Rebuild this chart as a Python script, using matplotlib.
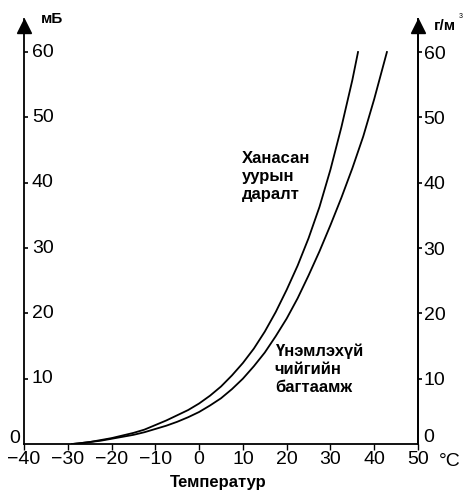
import numpy as np
import matplotlib
matplotlib.use("Agg")
import matplotlib.pyplot as plt

plt.rcParams['font.family'] = ['Liberation Sans', 'DejaVu Sans']

# saturation vapour pressure (mB) against temperature (C)
temp_p = [-29, -27.5, -25, -22.5, -20, -17.5, -15, -12.5, -10, -7.5, -5, -2.5, 0,
          2.5, 5, 7.5, 10, 12.5, 15, 17.5, 20, 22.5, 25, 27.5, 30, 32.5, 35, 36.3]
pres = [0.0, 0.1, 0.3, 0.6, 0.9, 1.3, 1.7, 2.2, 2.9, 3.6, 4.4, 5.2, 6.2,
        7.4, 8.8, 10.5, 12.4, 14.6, 17.2, 20.2, 23.6, 27.3, 31.5, 36.3, 42.0, 48.5, 55.7, 60.0]

# absolute humidity (g/m3) against temperature (C)
temp_h = [-29, -27.5, -25, -22.5, -20, -17.5, -15, -12.5, -10, -7.5, -5, -2.5, 0,
          2.5, 5, 7.5, 10, 12.5, 15, 17.5, 20, 22.5, 25, 27.5, 30, 32.5, 35, 37.5, 40, 42.9]
hum = [0.0, 0.1, 0.3, 0.5, 0.8, 1.1, 1.4, 1.8, 2.3, 2.8, 3.4, 4.1, 4.9,
       5.9, 7.0, 8.4, 10.0, 11.9, 14.0, 16.5, 19.2, 22.3, 25.8, 29.5, 33.5, 37.7, 42.2, 47.1, 52.8, 60.0]

xticks = [-40, -30, -20, -10, 0, 10, 20, 30, 40, 50]
yticks = [10, 20, 30, 40, 50, 60]
ytop = 65.0

fig = plt.figure(figsize=(4.68, 4.92), dpi=100)
ax = fig.add_axes([24/468, 48/492, 394/468, ytop*6.533/492])
ax.set_xlim(-40, 50)
ax.set_ylim(0, ytop)

ax.plot(temp_p, pres, color='black', lw=1.3)
ax.plot(temp_h, hum, color='black', lw=1.3)

ax.spines['top'].set_visible(False)
for s in ['left', 'right', 'bottom']:
    ax.spines[s].set_linewidth(1.3)

ax.set_xticks(xticks)
ax.set_xticklabels([str(t).replace('-', '\u2212') for t in xticks], fontsize=14)
ax.tick_params(axis='x', direction='out', length=4, width=1, pad=1)

ax.set_yticks(yticks)
ax.set_yticklabels([])
ax.tick_params(axis='y', direction='in', length=3, width=1.2)
for v in yticks:
    ax.text(-38.2, v, str(v), fontsize=14, ha='left', va='center')

ax2 = ax.twinx()
ax2.set_ylim(0, ytop)
for s in ['top', 'left', 'bottom']:
    ax2.spines[s].set_visible(False)
ax2.spines['right'].set_linewidth(1.3)
ax2.set_yticks(yticks)
ax2.set_yticklabels([str(v) for v in yticks], fontsize=14)
ax2.tick_params(axis='y', direction='out', length=3, width=1.2, pad=1)

# zero labels
ax.text(-42.1, 0.8, '0', fontsize=14, ha='center', va='center', clip_on=False)
ax.text(52.4, 1.0, '0', fontsize=14, ha='center', va='center', clip_on=False)

# arrowheads on the vertical axes
ax.plot([-40, 50], [64.0, 64.0], marker='^', ms=10, color='black', ls='none', clip_on=False)

ax.text(57.3, -2.7, '°C', fontsize=14, ha='center', va='center', clip_on=False)
ax.text(-33.6, 65.0, 'мБ', fontsize=11, fontweight='bold', ha='center', va='center', clip_on=False)
ax.text(56.1, 64.0, 'г/м', fontsize=11, fontweight='bold', ha='center', va='center', clip_on=False)
ax.text(59.8, 65.4, '3', fontsize=5, ha='center', va='center', clip_on=False)
ax.text(4.3, -5.9, 'Температур', fontsize=12, fontweight='bold', ha='center', va='center', clip_on=False)

ax.text(9.8, 44.9, 'Ханасан\nуурын\nдаралт', fontsize=12, fontweight='bold',
        ha='left', va='top', linespacing=1.25)
ax.text(17.3, 15.4, 'Үнэмлэхүй\nчийгийн\nбагтаамж', fontsize=12, fontweight='bold',
        ha='left', va='top', linespacing=1.25)

fig.savefig('out.png', dpi=100)
